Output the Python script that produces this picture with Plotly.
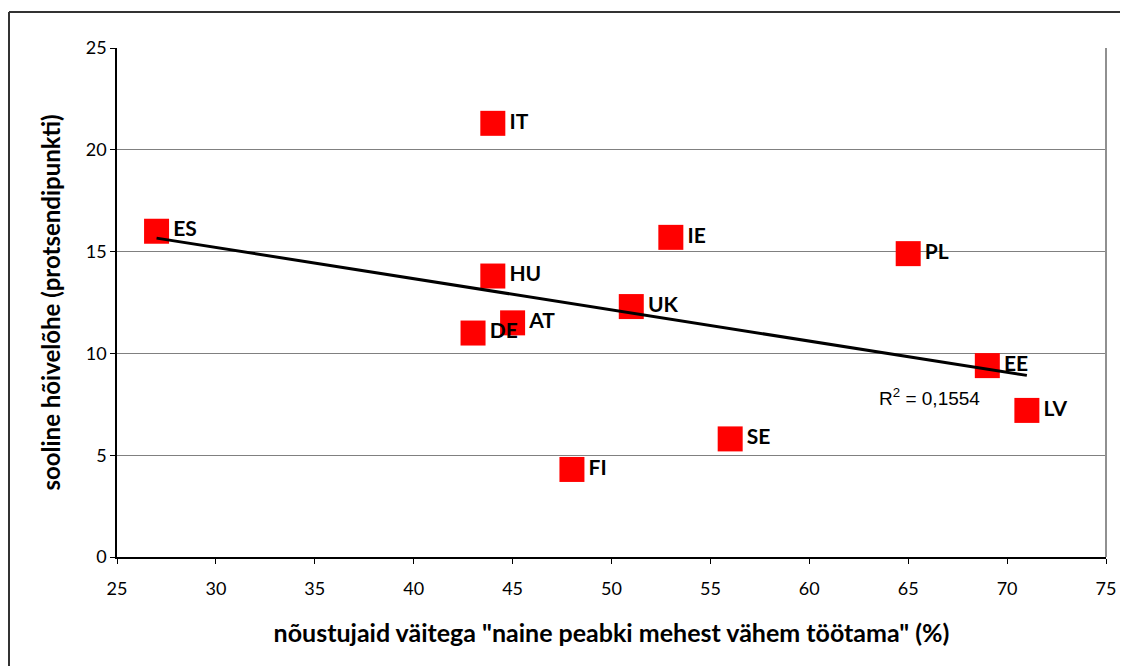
import numpy as np
import plotly.graph_objects as go

countries = ["ES", "IT", "IE", "PL", "HU", "UK", "AT", "DE", "EE", "LV", "SE", "FI"]
x_agree = [27, 44, 53, 65, 44, 51, 45, 43, 69, 71, 56, 48]
y_gap = [16.0, 21.3, 15.7, 14.9, 13.8, 12.3, 11.5, 11.0, 9.4, 7.2, 5.8, 4.3]
x_ticks = [25, 30, 35, 40, 45, 50, 55, 60, 65, 70, 75]
y_ticks = [0, 5, 10, 15, 20, 25]
r2_text = "R<sup>2</sup> = 0,1554"
x_title = 'nõustujaid väitega "naine peabki mehest vähem töötama" (%)'
y_title = "sooline hõivelõhe (protsendipunkti)"

xa = np.array(x_agree, dtype=float)
ya = np.array(y_gap, dtype=float)
slope, intercept = np.polyfit(xa, ya, 1)
x_line = [xa.min(), xa.max()]
y_line = [intercept + slope * v for v in x_line]

FONT = "Lato"
# page body has an 8px margin; the figure is sized/positioned to compensate
W, H = 1120, 658
ML, MR, MT, MB = 109, 22, 40, 109
PW = W - ML - MR
PH = H - MT - MB

fig = go.Figure()
fig.add_trace(go.Scatter(
    x=x_agree, y=y_gap, mode="markers+text", text=countries,
    textposition="middle right",
    textfont=dict(family=FONT, size=21, color="black", weight="bold"),
    marker=dict(symbol="square", size=25, color="#ff0000", line=dict(width=0)),
    showlegend=False, cliponaxis=False,
))
fig.add_trace(go.Scatter(
    x=x_line, y=y_line, mode="lines",
    line=dict(color="black", width=3), showlegend=False,
))

fig.add_annotation(x=63.4, y=7.86, xref="x", yref="y", text=r2_text,
                   showarrow=False, xanchor="left", yanchor="middle",
                   font=dict(family="Liberation Sans", size=19, color="black"))

fx = lambda px: (px - ML) / PW
fy = lambda py: 1 - (py - MT) / PH

fig.update_layout(
    width=W, height=H,
    margin=dict(l=ML, r=MR, t=MT, b=MB),
    paper_bgcolor="white", plot_bgcolor="white",
    font=dict(family=FONT, size=17, color="black"),
    xaxis=dict(range=[25, 75], tickvals=x_ticks, showgrid=False, zeroline=False,
               showline=True, linecolor="black", linewidth=1.5,
               ticks="outside", ticklen=5, tickcolor="black",
               ticklabelstandoff=10,
               tickfont=dict(family=FONT, size=18),
               title=dict(text=x_title, font=dict(family=FONT, size=25, weight="bold"), standoff=26)),
    yaxis=dict(range=[0, 25], tickvals=y_ticks, showgrid=True, gridcolor="#808080", gridwidth=1,
               zeroline=False, showline=True, linecolor="black", linewidth=1.5,
               ticks="outside", ticklen=5, tickcolor="black",
               tickfont=dict(family=FONT, size=18),
               title=dict(text=y_title, font=dict(family=FONT, size=24, weight="bold"), standoff=18)),
    shapes=[
        dict(type="line", xref="paper", yref="paper", x0=1, x1=1, y0=0, y1=1,
             line=dict(color="#909090", width=2)),
        dict(type="line", xref="paper", yref="paper", x0=fx(1), x1=fx(W + 10),
             y0=fy(4), y1=fy(4), line=dict(color="#333333", width=2)),
        dict(type="line", xref="paper", yref="paper", x0=fx(1), x1=fx(1),
             y0=fy(4), y1=fy(H + 10), line=dict(color="#333333", width=2)),
    ],
)

fig.write_html("out.html")
